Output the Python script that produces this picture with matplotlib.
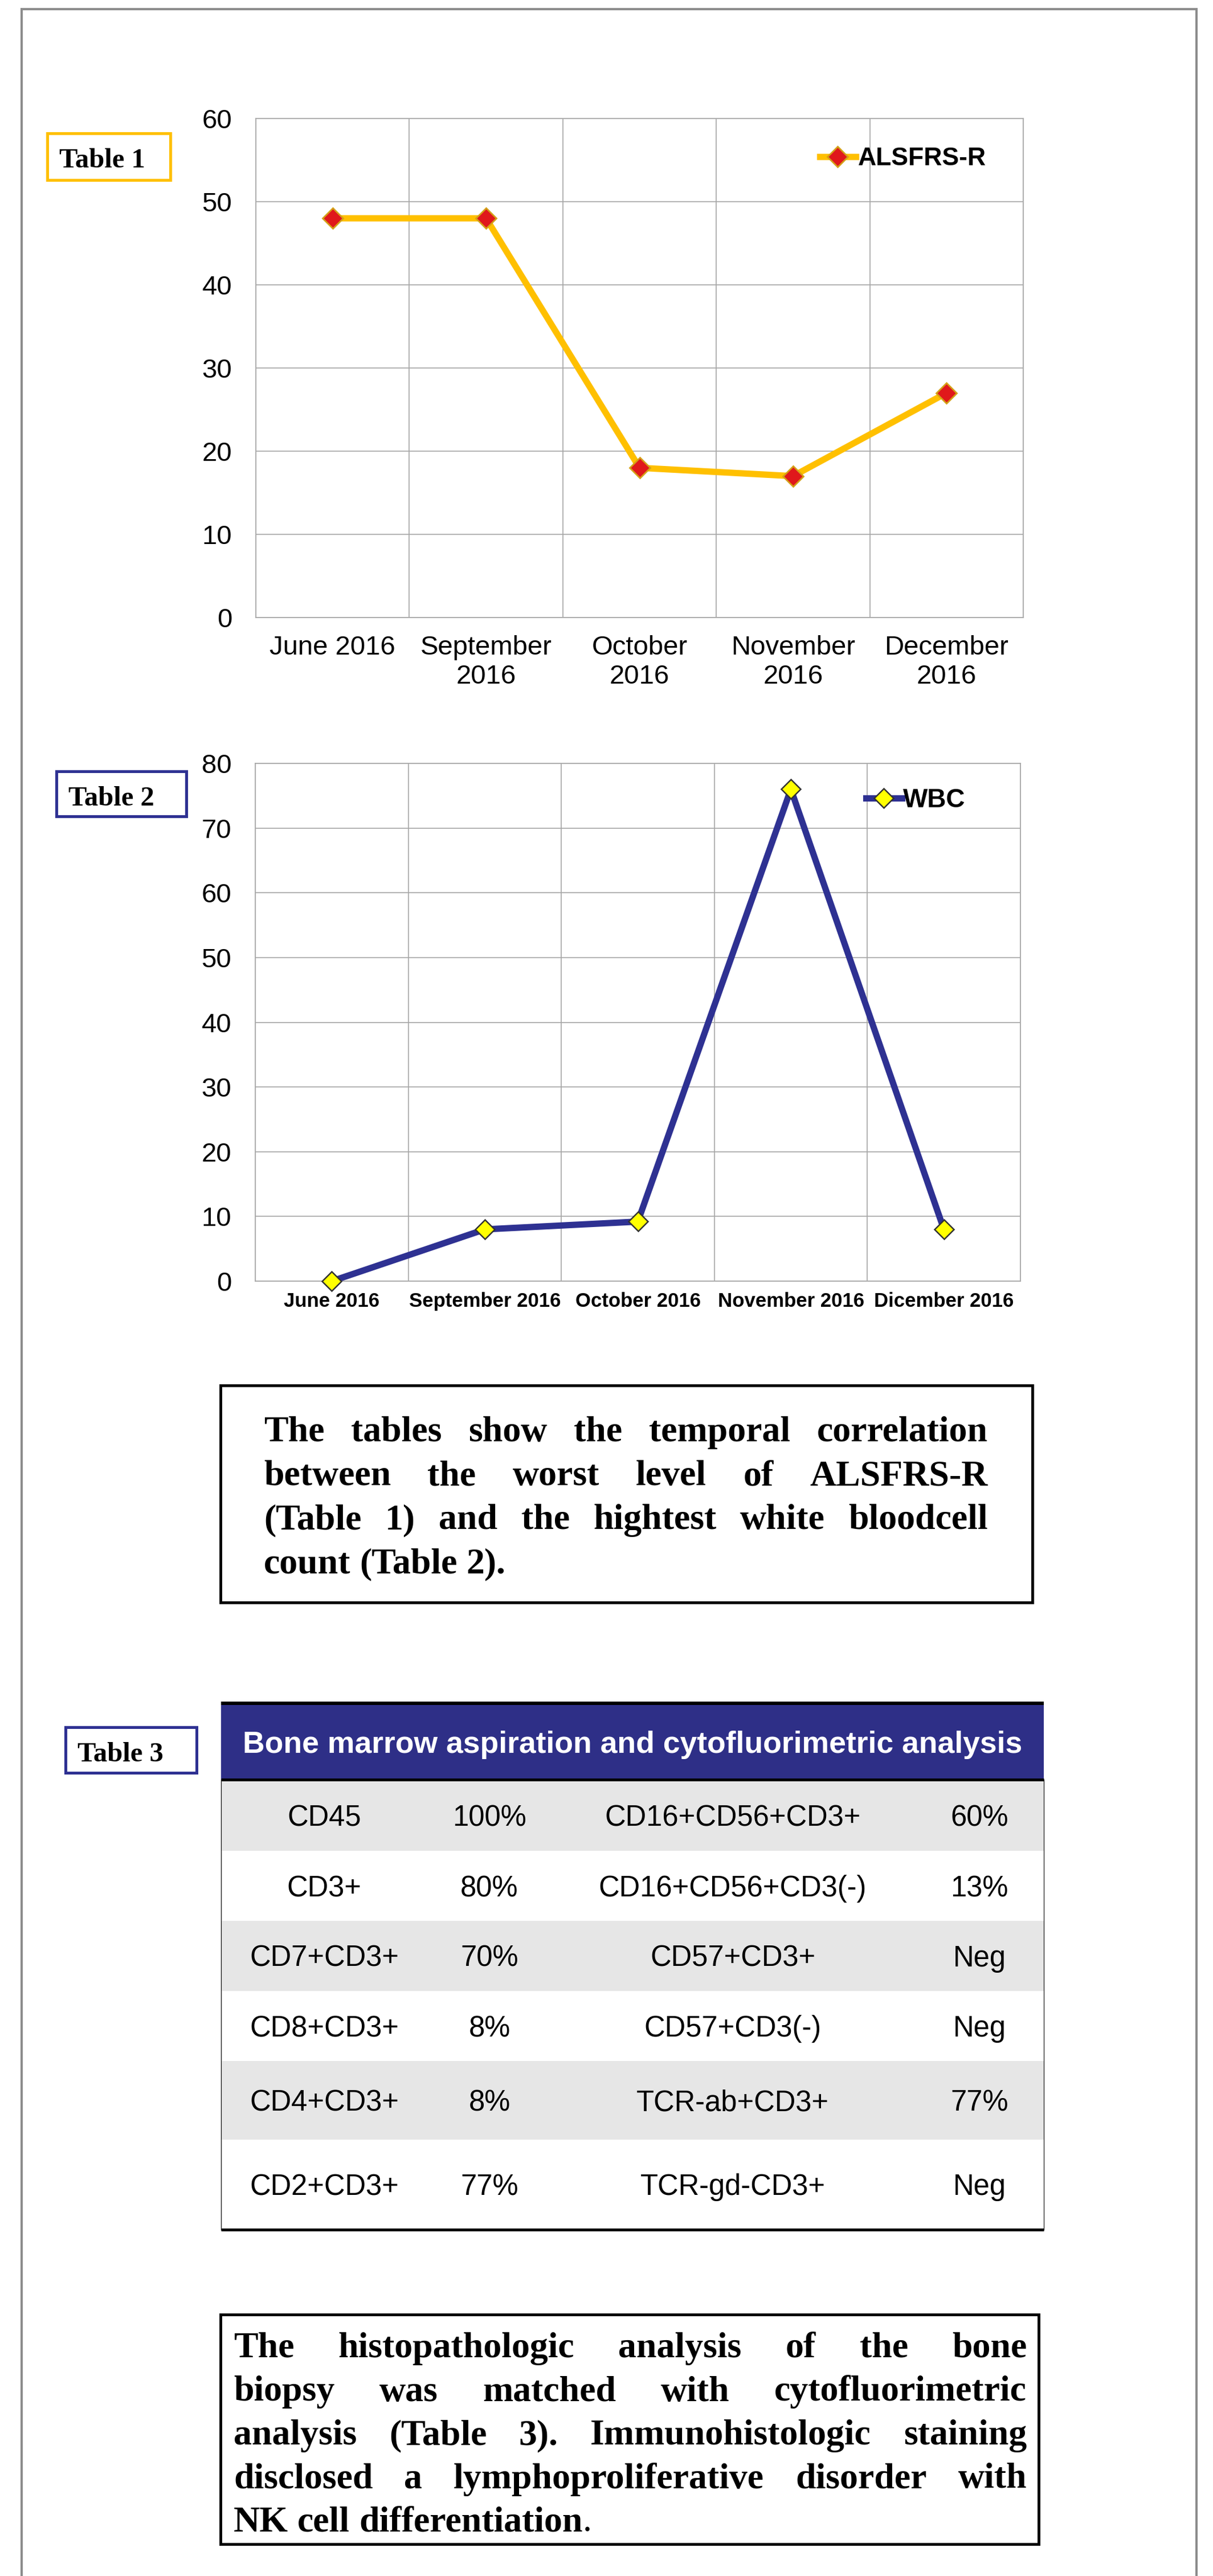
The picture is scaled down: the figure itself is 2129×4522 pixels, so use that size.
import matplotlib
matplotlib.use('Agg')
import matplotlib.pyplot as plt
from matplotlib.patches import Rectangle
from matplotlib.font_manager import FontProperties
import numpy as np

# ---------------- data ----------------
labels1 = ["June 2016", "September\n2016", "October\n2016", "November\n2016", "December\n2016"]
alsfrs = [48, 48, 18, 17, 27]
labels2 = ["June 2016", "September 2016", "October 2016", "November 2016", "Dicember 2016"]
wbc = [0, 8, 9.2, 76, 8]

table_title = "Bone marrow aspiration and cytofluorimetric analysis"
markers_left = ["CD45", "CD3+", "CD7+CD3+", "CD8+CD3+", "CD4+CD3+", "CD2+CD3+"]
values_left = ["100%", "80%", "70%", "8%", "8%", "77%"]
markers_right = ["CD16+CD56+CD3+", "CD16+CD56+CD3(-)", "CD57+CD3+", "CD57+CD3(-)", "TCR-ab+CD3+", "TCR-gd-CD3+"]
values_right = ["60%", "13%", "Neg", "Neg", "77%", "Neg"]

para1 = ["The tables show the temporal correlation",
         "between the worst level of ALSFRS-R",
         "(Table 1) and the hightest white bloodcell",
         "count (Table 2)."]
para2 = ["The histopathologic analysis of the bone",
         "biopsy was matched with cytofluorimetric",
         "analysis (Table 3). Immunohistologic staining",
         "disclosed a lymphoproliferative disorder with",
         "NK cell differentiation"]

# ---------------- figure ----------------
W, H = 2129, 4522
DPI = 100
plt.rcParams['font.family'] = ['Liberation Sans', 'DejaVu Sans']
fig = plt.figure(figsize=(W / DPI, H / DPI), dpi=DPI)
fig.patch.set_facecolor('white')


def frac(x0, y0, x1, y1):
    return [x0 / W, 1 - y1 / H, (x1 - x0) / W, (y1 - y0) / H]


bg = fig.add_axes([0, 0, 1, 1])
bg.set_xlim(0, W)
bg.set_ylim(H, 0)
bg.axis('off')
bg.set_zorder(0)

# page border
bg.plot([38, 38, 2100, 2100], [H + 10, 16, 16, H + 10], color='#8C8C8C', lw=2.9,
        solid_joinstyle='miter', clip_on=False)

GRID = '#A6A6A6'
NAVY = '#2E3192'
GOLD = '#FFC000'

# ---------------- chart 1 ----------------
x = np.arange(len(alsfrs))
ax1 = fig.add_axes(frac(449, 208, 1796, 1084))
ax1.set_zorder(2)
ax1.plot(x, alsfrs, color=GOLD, lw=8, marker='D', ms=18, mfc='#E0181B', mec='#D4A017',
         mew=2, label='ALSFRS-R', zorder=3, clip_on=False)
ax1.set_xlim(-0.5, 4.5)
ax1.set_ylim(0, 60)
ax1.set_yticks(np.arange(0, 61, 10))
ax1.set_xticks(x)
ax1.set_xticklabels(labels1, fontsize=34, linespacing=1.22)
ax1.set_xticks(np.arange(-0.5, 5, 1), minor=True)
ax1.grid(True, which='minor', axis='x', color=GRID, lw=1.2)
ax1.grid(True, which='major', axis='y', color=GRID, lw=1.2)
ax1.tick_params(which='both', length=0)
ax1.tick_params(axis='y', labelsize=34, pad=30)
ax1.tick_params(axis='x', pad=22)
for s in ax1.spines.values():
    s.set_color(GRID)
    s.set_linewidth(1.2)
ax1.set_axisbelow(True)
ax1.legend(loc='center left', bbox_to_anchor=(0.7348, 0.919), frameon=False, borderpad=0,
           borderaxespad=0, handlelength=1.42, handletextpad=0.1, numpoints=1,
           prop=FontProperties(family='Liberation Sans', weight='bold', size=32))

# ---------------- chart 2 ----------------
ax2 = fig.add_axes(frac(448, 1340, 1791, 2249))
ax2.set_zorder(2)
ax2.plot(x, wbc, color=NAVY, lw=8, marker='D', ms=17, mfc='#FFFF00', mec='#333333',
         mew=1.8, label='WBC', zorder=3, clip_on=False)
ax2.set_xlim(-0.5, 4.5)
ax2.set_ylim(0, 80)
ax2.set_yticks(np.arange(0, 81, 10))
ax2.set_xticks(x)
ax2.set_xticklabels(labels2, fontsize=25, fontweight='bold')
ax2.set_xticks(np.arange(-0.5, 5, 1), minor=True)
ax2.grid(True, which='minor', axis='x', color=GRID, lw=1.2)
ax2.grid(True, which='major', axis='y', color=GRID, lw=1.2)
ax2.tick_params(which='both', length=0)
ax2.tick_params(axis='y', labelsize=34, pad=30)
ax2.tick_params(axis='x', pad=14)
for s in ax2.spines.values():
    s.set_color(GRID)
    s.set_linewidth(1.2)
ax2.set_axisbelow(True)
ax2.legend(loc='center left', bbox_to_anchor=(0.798, 0.9285), frameon=False, borderpad=0,
           borderaxespad=0, handlelength=1.37, handletextpad=0.05, numpoints=1,
           prop=FontProperties(family='Liberation Sans', weight='bold', size=33))

# ---------------- table labels ----------------
lab_fp = FontProperties(family='Liberation Serif', weight='bold', size=35)


def label_box(x0, y0, x1, y1, text, color):
    bg.add_patch(Rectangle((x0, y0), x1 - x0, y1 - y0, fill=False, ec=color, lw=3.6))
    bg.text(x0 + 21, y0 + 60, text, fontproperties=lab_fp, va='baseline', ha='left')


label_box(83, 234, 299, 316, "Table 1", GOLD)
label_box(99, 1354, 327, 1433, "Table 2", NAVY)
label_box(115, 3032, 345, 3112, "Table 3", NAVY)

# ---------------- justified paragraphs ----------------
renderer = fig.canvas.get_renderer()
par_fp = FontProperties(family='Liberation Serif', weight='bold', size=46)
par_fp_reg = FontProperties(family='Liberation Serif', weight='normal', size=46)


def draw_line(line, x0, x1, y, justify, trailing=None):
    words = line.split(' ')
    texts = [bg.text(0, y, w, fontproperties=par_fp, va='baseline', ha='left') for w in words]
    widths = [t.get_window_extent(renderer).width for t in texts]
    if justify and len(words) > 1:
        gap = (x1 - x0 - sum(widths)) / (len(words) - 1)
    else:
        gap = 0.25 * 46 * DPI / 72
    xx = x0
    for t, w in zip(texts, widths):
        t.set_x(xx)
        xx += w + gap
    if trailing is not None:
        bg.text(xx - gap, y, trailing, fontproperties=par_fp_reg, va='baseline', ha='left')


bg.add_patch(Rectangle((387, 2432), 1812 - 387, 2813 - 2432, fill=False, ec='black', lw=3.5))
for i, line in enumerate(para1):
    draw_line(line, 463, 1734, 2530 + i * 77, justify=(i < len(para1) - 1))

bg.add_patch(Rectangle((387, 4063), 1823 - 387, 4466 - 4063, fill=False, ec='black', lw=3.5))
for i, line in enumerate(para2):
    last = i == len(para2) - 1
    draw_line(line, 410, 1802, 4138 + i * 76.5, justify=not last, trailing='.' if last else None)

# ---------------- table 3 ----------------
TL, TR = 388, 1832
row_edges = [3126, 3249, 3372, 3495, 3618, 3756, 3914]
col_centers = [569, 859, 1286, 1719]
bg.add_patch(Rectangle((TL, 2990), TR - TL, 3124 - 2990, fc='#2E2F87', ec='none'))
for i in range(len(markers_left)):
    y0, y1 = row_edges[i], row_edges[i + 1]
    if i % 2 == 0:
        bg.add_patch(Rectangle((TL, y0), TR - TL, y1 - y0, fc='#E6E6E6', ec='none'))
    yb = (y0 + y1) / 2 + 18.5
    for cx, txt in zip(col_centers, [markers_left[i], values_left[i], markers_right[i], values_right[i]]):
        bg.text(cx, yb, txt, fontsize=36.5, ha='center', va='baseline', color='black')
bg.plot([TL, TR], [2990, 2990], color='black', lw=4.3, solid_capstyle='butt')
bg.plot([TL, TR], [3124, 3124], color='black', lw=3.6, solid_capstyle='butt')
bg.plot([TL, TR], [3914, 3914], color='black', lw=3.6, solid_capstyle='butt')
bg.plot([TL, TL], [3124, 3914], color='black', lw=0.8)
bg.plot([TR, TR], [3124, 3914], color='black', lw=0.8)
bg.text((TL + TR) / 2, 3077, table_title, fontsize=38.5, fontweight='bold', color='white',
        ha='center', va='baseline')

fig.savefig('out.png', dpi=DPI, facecolor='white')
